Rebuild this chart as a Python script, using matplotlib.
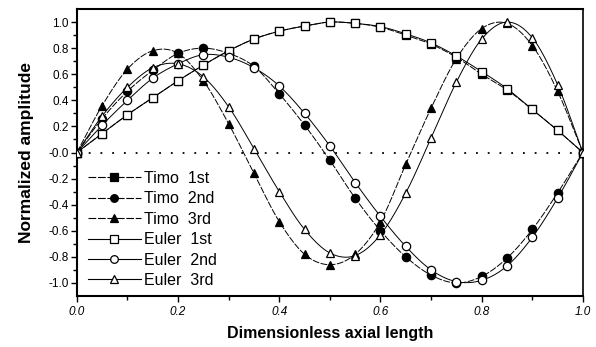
import numpy as np
import matplotlib
matplotlib.use("Agg")
import matplotlib.pyplot as plt
from matplotlib.lines import Line2D

plt.rcParams["font.family"] = ["Liberation Sans", "DejaVu Sans"]
plt.rcParams["axes.unicode_minus"] = False

# Axial positions of the sampled nodes
x = np.round(np.arange(0, 1.0001, 0.05), 2)

# Normalized mode shapes (Timoshenko vs Euler beam)
timo_1st = [0.0, 0.145, 0.29, 0.42, 0.55, 0.67, 0.78, 0.87, 0.93, 0.97, 1.0,
            0.99, 0.96, 0.90, 0.83, 0.73, 0.60, 0.48, 0.33, 0.17, 0.0]
timo_2nd = [0.0, 0.26, 0.47, 0.63, 0.76, 0.80, 0.76, 0.66, 0.45, 0.21, -0.06,
            -0.35, -0.60, -0.80, -0.94, -1.0, -0.95, -0.81, -0.59, -0.31, 0.0]
timo_3rd = [0.0, 0.36, 0.64, 0.78, 0.76, 0.55, 0.22, -0.16, -0.53, -0.78, -0.86,
            -0.78, -0.53, -0.09, 0.34, 0.72, 0.95, 0.99, 0.82, 0.47, 0.0]
euler_1st = [0.0, 0.145, 0.29, 0.42, 0.55, 0.67, 0.78, 0.87, 0.93, 0.97, 1.0,
             0.99, 0.965, 0.91, 0.84, 0.74, 0.62, 0.49, 0.33, 0.17, 0.0]
euler_2nd = [0.0, 0.21, 0.40, 0.57, 0.68, 0.75, 0.73, 0.65, 0.51, 0.30, 0.05,
             -0.23, -0.49, -0.72, -0.90, -0.99, -0.98, -0.87, -0.65, -0.35, 0.0]
euler_3rd = [0.0, 0.28, 0.50, 0.65, 0.68, 0.58, 0.35, 0.03, -0.30, -0.59, -0.77,
             -0.79, -0.63, -0.31, 0.11, 0.54, 0.87, 1.0, 0.88, 0.52, 0.0]

labels = ["Timo  1st", "Timo  2nd", "Timo  3rd", "Euler  1st", "Euler  2nd", "Euler  3rd"]
series = [timo_1st, timo_2nd, timo_3rd, euler_1st, euler_2nd, euler_3rd]
markers = ["s", "o", "^", "s", "o", "^"]
faces = ["black", "black", "black", "white", "white", "white"]
styles = [(0, (7, 1.5)), (0, (7, 1.5)), (0, (7, 1.5)), "-", "-", "-"]


def smooth(xv, yv, n=12):
    """Catmull-Rom path through the nodes for a smooth connecting line."""
    yv = np.asarray(yv, float)
    yp = np.concatenate([[2 * yv[0] - yv[1]], yv, [2 * yv[-1] - yv[-2]]])
    t = np.linspace(0, 1, n, endpoint=False)
    xs, ys = [], []
    for i in range(len(xv) - 1):
        p0, p1, p2, p3 = yp[i], yp[i + 1], yp[i + 2], yp[i + 3]
        ys.append(0.5 * (2 * p1 + (-p0 + p2) * t + (2 * p0 - 5 * p1 + 4 * p2 - p3) * t ** 2
                         + (-p0 + 3 * p1 - 3 * p2 + p3) * t ** 3))
        xs.append(xv[i] + (xv[i + 1] - xv[i]) * t)
    xs.append([xv[-1]])
    ys.append([yv[-1]])
    return np.concatenate(xs), np.concatenate(ys)


fig = plt.figure(figsize=(5.96, 3.47), dpi=100)
ax = fig.add_axes([0.129, 0.147, 0.849, 0.827])

ax.axhline(0, color="black", lw=1.3, ls=(0, (1, 5.5)), zorder=1)

handles = []
for yv, lab, mk, fc, ls in zip(series, labels, markers, faces, styles):
    sx, sy = smooth(x, yv)
    ax.plot(sx, sy, color="black", lw=0.7, ls=ls, zorder=2)
    ax.plot(x, yv, ls="none", marker=mk, ms=6,
            mfc=fc, mec="black", mew=0.9, zorder=3)
    handles.append(Line2D([], [], color="black", lw=0.8, ls=ls, marker=mk,
                          ms=5.5, mfc=fc, mec="black", mew=0.9))

ax.set_xlim(0, 1.0)
ax.set_ylim(-1.1, 1.1)
ax.set_xticks(np.arange(0, 1.01, 0.2))
ax.set_xticks(np.arange(0, 1.01, 0.1), minor=True)
ax.set_yticks(np.round(np.arange(-1.0, 1.01, 0.2), 1))
ax.set_yticks(np.round(np.arange(-1.0, 1.01, 0.1), 1), minor=True)
ax.set_xticklabels([f"{v:.1f}" for v in np.arange(0, 1.01, 0.2)], fontstyle="italic")
ax.set_yticklabels([f"{v:.1f}" for v in np.round(np.arange(-1.0, 1.01, 0.2), 1)])
ax.tick_params(which="both", direction="out", labelsize=8.5, width=1.0)
ax.tick_params(which="major", length=4)
ax.tick_params(which="minor", length=3)
ax.tick_params(axis="x", pad=3)
ax.tick_params(axis="y", pad=2)

for side in ["left", "bottom", "top"]:
    ax.spines[side].set_linewidth(1.5)
ax.spines["right"].set_linewidth(1.2)

ax.set_xlabel("Dimensionless axial length", fontsize=11.5, fontweight="bold", labelpad=6)
ax.set_ylabel("Normalized amplitude", fontsize=12.5, fontweight="bold", labelpad=10)

ax.legend(handles, labels, loc="upper left", bbox_to_anchor=(0.0, 0.475),
          frameon=False, handlelength=3.3, handletextpad=0.2,
          labelspacing=0.34, fontsize=11.5, borderaxespad=0.3)

fig.savefig("out.png", dpi=100)
